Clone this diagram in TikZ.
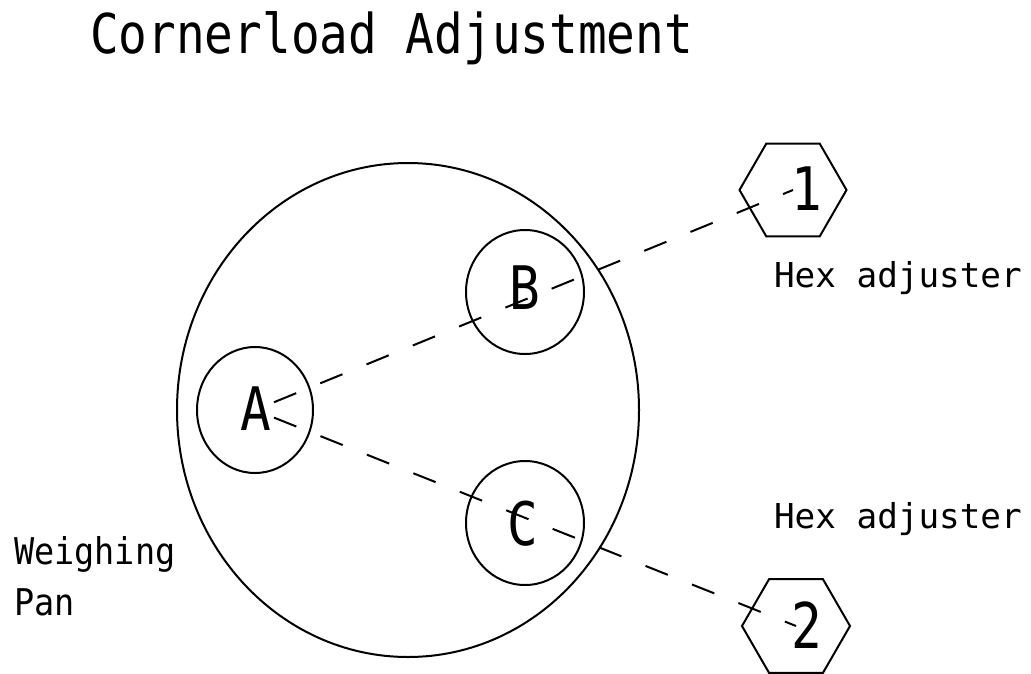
\documentclass[tikz,border=0pt]{standalone}
\usepackage{fontspec}
\usepackage{graphicx}
\newfontfamily\cadfont{DejaVu Sans Mono}
\usetikzlibrary{shapes.geometric}
\newcommand\cadtxt[4]{\scalebox{#2}[#3]{\cadfont\fontsize{#1pt}{#1pt}\selectfont #4}}
\begin{document}
\begin{tikzpicture}[x=1pt,y=-1pt,line width=2pt,
  pan/.style={ellipse,draw,inner sep=0pt,minimum width=462pt,minimum height=494pt},
  foot/.style={ellipse,draw,inner sep=0pt,minimum width=118pt,minimum height=124pt},
  hexnut/.style={regular polygon,regular polygon sides=6,draw,inner sep=0pt,minimum size=107pt},
  lbl/.style={inner sep=0pt,anchor=base west},
  letter/.style={inner sep=0pt,anchor=base},
  link/.style={dash pattern=on 24pt off 26pt,dash phase=29.5pt}]
\useasboundingbox (0,0) rectangle (1031,673);
\fill[white] (0,0) rectangle (1031,673);
\node[lbl] (title) at (89,53) {\cadtxt{47.7}{1}{1.15}{Cornerload Adjustment}};
\node[pan] (pan) at (408,410) {};
\node[foot,minimum width=116pt,minimum height=126pt] (A) at (255,410) {};
\node[foot] (B) at (525,292) {};
\node[foot] (C) at (525,523) {};
\node[hexnut] (h1) at (793,190) {};
\node[hexnut,minimum size=108pt] (h2) at (796,626) {};
\node[letter] (tA) at (256,430) {\cadtxt{60}{0.85}{1}{A}};
\node[letter] (tB) at (525,309) {\cadtxt{60}{0.85}{1}{B}};
\node[letter] (tC) at (523,545) {\cadtxt{60}{0.85}{1}{C}};
\node[letter] (t1) at (807,210) {\cadtxt{60}{0.85}{1}{1}};
\node[letter] (t2) at (807,648) {\cadtxt{60}{0.85}{1.05}{2}};
\draw[link] (A.center) -- (h1.center);
\draw[link] (A.center) -- (h2.center);
\node[lbl] (hex1) at (773,287) {\cadtxt{34.3}{1}{1}{Hex adjuster}};
\node[lbl] (hex2) at (773,528) {\cadtxt{34.3}{1}{1}{Hex adjuster}};
\node[lbl] (w) at (13,564) {\cadtxt{33.5}{1}{1.1}{Weighing}};
\node[lbl] (p) at (13,615) {\cadtxt{33.5}{1}{1.1}{Pan}};
\end{tikzpicture}
\end{document}
